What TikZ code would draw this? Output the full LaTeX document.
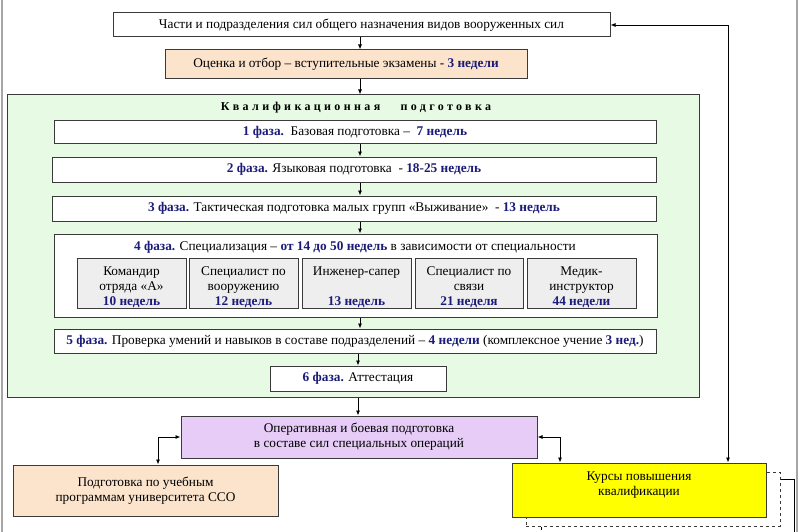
\documentclass[tikz,border=0pt]{standalone}
\usepackage{fontspec}
\setmainfont{Liberation Serif}
\usetikzlibrary{arrows.meta}
\definecolor{nv}{HTML}{1B1B7A}
\definecolor{peach}{HTML}{FCE4CC}
\definecolor{mint}{HTML}{E6FAE4}
\definecolor{lav}{HTML}{E6CCF7}
\definecolor{lgray}{HTML}{EEEEEE}
\definecolor{ylw}{HTML}{FFFF00}
\definecolor{bord}{HTML}{3A3A3A}
\newcommand{\bl}[1]{\textbf{\color{nv}#1}}
\begin{document}
\begin{tikzpicture}[x=1pt,y=-1pt,
  box/.style={draw=bord, line width=1pt, fill=white, inner sep=0pt, align=center,
    font=\fontsize{13.3}{15}\selectfont},
  txt/.style={inner sep=0pt, align=center, font=\fontsize{13.3}{15}\selectfont},
  arr/.style={-{Latex[length=5pt,width=4pt]}, line width=0.8pt, black},
  arrr/.style={{Latex[length=5pt,width=4pt]}-{Latex[length=5pt,width=4pt]}, line width=0.8pt, black},
  frame/.style={draw=gray!70, line width=1.2pt}]
\useasboundingbox (0,0) rectangle (800,532);
% frame lines
\coordinate (fl1) at (2,0); \coordinate (fl2) at (2,532);
\coordinate (fr1) at (797,0); \coordinate (fr2) at (797,532);
\draw[frame] (fl1) -- (fl2);
\draw[frame] (fr1) -- (fr2);
% arrow columns
\coordinate (ax) at (360,0);
\coordinate (ax2) at (358,0);
\coordinate (lx) at (158,0);
\coordinate (rx) at (560,0);
\coordinate (vx) at (728,0);
% top boxes
\node[box, minimum width=497, minimum height=24] (chasti) at (361.5,25)
  {Части и подразделения сил общего назначения видов вооруженных сил};
\node[box, fill=peach, minimum width=362, minimum height=29] (ocenka) at (346,64.5)
  {Оценка и отбор -- вступительные экзамены - \bl{3 недели}};
% green container
\node[box, fill=mint, minimum width=692, minimum height=302] (green) at (353,246) {};
\node[txt, font=\fontsize{12}{14}\selectfont\bfseries\addfontfeature{LetterSpace=28}] (title) at (356,108)
  {Квалификационная\hspace{14pt} подготовка};
% phases
\node[box, minimum width=602, minimum height=22] (ph1) at (355,132)
  {\bl{1 фаза.}\ \ Базовая подготовка -- \ \bl{7 недель}};
\node[box, minimum width=604, minimum height=25] (ph2) at (354,169.5)
  {\bl{2 фаза.} Языковая подготовка \ - \bl{18-25 недель}};
\node[box, minimum width=604, minimum height=25] (ph3) at (354,208.5)
  {\bl{3 фаза.} Тактическая подготовка малых групп «Выживание» \ - \bl{13 недель}};
\node[box, minimum width=603, minimum height=83] (ph4) at (355.5,275.5) {};
\node[txt] (ph4t) at (355,247)
  {\bl{4 фаза.} Специализация -- \bl{от 14 до 50 недель} в зависимости от специальности};
% sub boxes
\node[box, fill=lgray, minimum width=109, minimum height=50] (s1) at (131.5,283) {};
\node[box, fill=lgray, minimum width=109, minimum height=50] (s2) at (243.5,283) {};
\node[box, fill=lgray, minimum width=109, minimum height=50] (s3) at (356.5,283) {};
\node[box, fill=lgray, minimum width=108, minimum height=50] (s4) at (469,283) {};
\node[box, fill=lgray, minimum width=109, minimum height=50] (s5) at (581.5,283) {};
\node[txt] (s1t) at (131.5,287.5) {Командир\\отряда «А»\\\bl{10 недель}};
\node[txt] (s2t) at (243.5,287.5) {Специалист по\\вооружению\\\bl{12 недель}};
\node[txt] (s3t) at (356.5,287.5) {Инженер-сапер\\\mbox{}\\\bl{13 недель}};
\node[txt] (s4t) at (469,287.5) {Специалист по\\связи\\\bl{21 неделя}};
\node[txt] (s5t) at (581.5,287.5) {Медик-\\инструктор\\\bl{44 недели}};
\node[box, minimum width=602, minimum height=24] (ph5) at (355,341)
  {\bl{5 фаза.} Проверка умений и навыков в составе подразделений -- \bl{4 недели} (комплексное учение \bl{3 нед.})};
\node[box, minimum width=176, minimum height=25] (ph6) at (358,378.5)
  {\bl{6 фаза.} Аттестация};
% bottom boxes
\node[box, fill=lav, minimum width=356, minimum height=42] (oper) at (359,437)
  {Оперативная и боевая подготовка\\в составе сил специальных операций};
\node[box, fill=peach, minimum width=265, minimum height=51] (podg) at (145.5,490.5)
  {Подготовка по учебным\\программам университета ССО};
\node[draw=bord, dashed, line width=1pt, inner sep=0pt, minimum width=254, minimum height=54] (dbox) at (653,499) {};
\node[box, fill=ylw, minimum width=254, minimum height=54] (kursy) at (639,490) {};
\node[txt] (kursyt) at (639,485) {Курсы повышения\\квалификации};
% connectors
\draw[arr] (chasti.south -| ax) -- (ocenka.north -| ax);
\draw[arr] (ocenka.south -| ax) -- (green.north -| ax);
\draw[arr] (ph1.south -| ax) -- (ph2.north -| ax);
\draw[arr] (ph2.south -| ax) -- (ph3.north -| ax);
\draw[arr] (ph3.south -| ax) -- (ph4.north -| ax);
\draw[arr] (ph4.south -| ax) -- (ph5.north -| ax);
\draw[arr] (ph5.south -| ax2) -- (ph6.north -| ax2);
\draw[arr] (green.south -| ax2) -- (oper.north -| ax2);
\draw[arrr] (podg.north -| lx) |- (oper.west);
\draw[arrr] (oper.east) -| (kursy.north -| rx);
\draw[arrr] (chasti.east) -| (kursy.north -| vx);
\coordinate (rl) at (794,479);
\coordinate (re) at (794,532);
\coordinate (dx) at (541,532);
\draw[line width=0.8pt] (dbox.east |- rl) -| (re);
\draw[line width=0.8pt, dashed] (dbox.south -| dx) -- (dx);
\end{tikzpicture}
\end{document}
